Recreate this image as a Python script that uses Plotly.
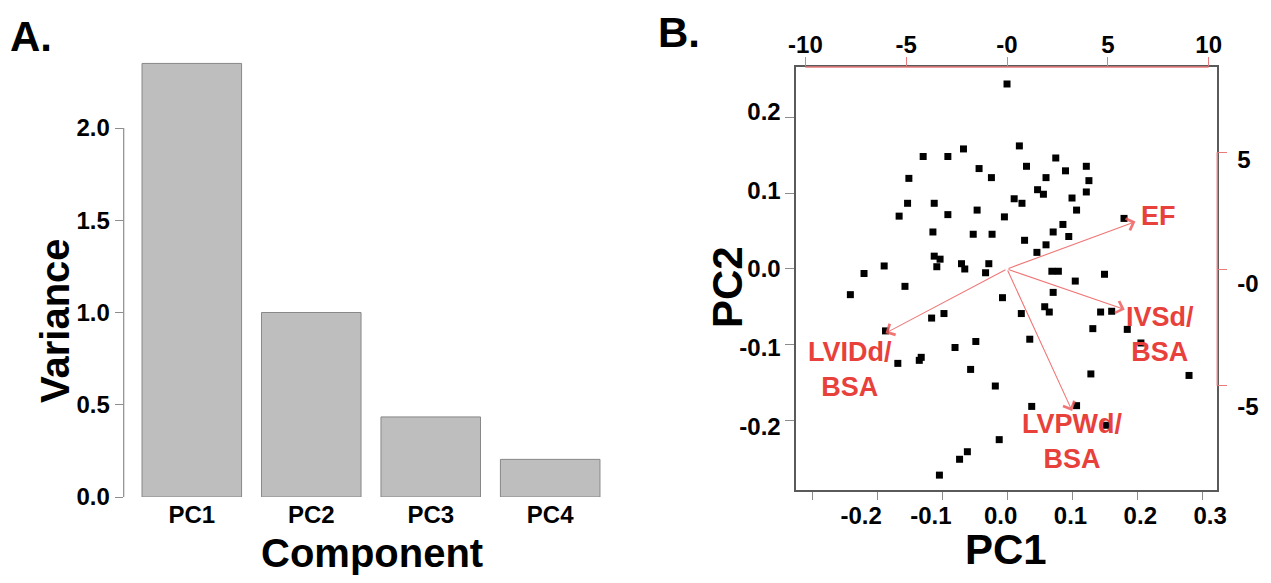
import plotly.graph_objects as go

# ---------------- data ----------------
components = ["PC1", "PC2", "PC3", "PC4"]
variances = [2.35, 1.00, 0.434, 0.204]
bar_ticks = [0.0, 0.5, 1.0, 1.5, 2.0]
bar_ticktext = ["0.0", "0.5", "1.0", "1.5", "2.0"]

pc1_scores = [0.000, 0.019, -0.129, -0.091, -0.067, -0.151, -0.043, -0.024, -0.153, -0.112,
              -0.166, -0.091, -0.046, 0.011, 0.023, -0.004, -0.114, -0.052, -0.023, -0.112,
              -0.103, -0.108, -0.070, -0.065, -0.028, -0.033, -0.189, -0.220, -0.241, -0.157,
              -0.007, 0.022, -0.116, -0.097, -0.187, -0.048, -0.080, -0.168, -0.135, -0.132,
              -0.056, -0.018, -0.012, -0.061, -0.073, -0.104, 0.069, 0.079, 0.105, 0.150,
              0.071, 0.058, 0.065, 0.144, 0.161, 0.132, 0.185, 0.206, 0.035, 0.129,
              0.280, 0.038, 0.107, 0.153, 0.075, 0.030, 0.090, 0.122, 0.060, 0.126,
              0.047, 0.056, 0.122, 0.100, 0.107, 0.180, 0.086, 0.071, 0.095, 0.027,
              0.060, 0.046]
pc2_scores = [0.245, 0.163, 0.149, 0.149, 0.159, 0.120, 0.133, 0.121, 0.087, 0.087,
              0.070, 0.072, 0.078, 0.093, 0.087, 0.069, 0.049, 0.046, 0.046, 0.017,
              0.013, 0.003, 0.007, 0.000, 0.007, -0.005, 0.004, -0.006, -0.034, -0.023,
              -0.038, -0.059, -0.065, -0.059, -0.082, -0.096, -0.104, -0.125, -0.121, -0.117,
              -0.133, -0.155, -0.226, -0.242, -0.252, -0.273, -0.003, -0.003, -0.016, -0.007,
              -0.031, -0.050, -0.057, -0.057, -0.056, -0.079, -0.080, -0.098, -0.093, -0.139,
              -0.141, -0.182, -0.181, -0.207, 0.147, 0.136, 0.130, 0.136, 0.121, 0.117,
              0.105, 0.099, 0.102, 0.094, 0.078, 0.067, 0.059, 0.049, 0.043, 0.038,
              0.032, 0.022]

loading_names = ["EF", "IVSd/<br>BSA", "LVPWd/<br>BSA", "LVIDd/<br>BSA"]
loading_pc1 = [6.37, 5.84, 3.23, -6.03]
loading_pc2 = [2.03, -1.74, -6.08, -2.75]

score_ticks = [-0.3, -0.2, -0.1, 0.0, 0.1, 0.2, 0.3]
score_x_labels = [-0.2, -0.1, 0.0, 0.1, 0.2, 0.3]
score_x_text = ["-0.2", "-0.1", "0.0", "0.1", "0.2", "0.3"]
score_y_ticks = [-0.2, -0.1, 0.0, 0.1, 0.2]
score_y_text = ["-0.2", "-0.1", "0.0", "0.1", "0.2"]
load_x_ticks = [-10, -5, 0, 5, 10]
load_x_text = ["-10", "-5", "-0", "5", "10"]
load_y_ticks = [-5, 0, 5]
load_y_text = ["-5", "-0", "5"]

# ---------------- styles ----------------
PAGE_W, PAGE_H = 1271, 583
BODY = 8                       # default margin of the html body
W, H = PAGE_W - BODY, PAGE_H - 2 * BODY
FONT = "Liberation Sans, Arial, Helvetica, sans-serif"
tickfont = dict(family=FONT, size=24, color="black", weight="bold")
RED_TXT = "#e8413c"
RED_AX = "#e87a7a"
ARROW = "rgba(238,95,95,0.85)"
GRAY = "#8c8c8c"
BOX = "#5a5a5a"


def px_x(p):
    return (p - BODY) / W


def px_y(p):
    return 1 - (p - BODY) / H


# label-shift (pixels) of each loading label relative to its arrow tip
label_shift = [(23, 6), (35, -25), (0, -31), (-35, -36)]

fig = go.Figure()

fig.add_trace(go.Bar(
    x=components, y=variances, width=1 / 1.2,
    marker=dict(color="#bebebe", line=dict(color="#888888", width=1)),
    xaxis="x", yaxis="y", hoverinfo="skip"))

fig.add_trace(go.Scatter(
    x=pc1_scores, y=pc2_scores, mode="markers",
    marker=dict(symbol="square", size=7, color="black"),
    xaxis="x3", yaxis="y3", hoverinfo="skip", cliponaxis=False))

# empty traces so that the label-only axes are created and drawn
for xa, ya in [("x5", "y3"), ("x3", "y5"), ("x3", "y6")]:
    fig.add_trace(go.Scatter(x=[], y=[], xaxis=xa, yaxis=ya, mode="markers",
                             hoverinfo="skip", showlegend=False))

annotations = []
for name, lx, ly, (sx, sy) in zip(loading_names, loading_pc1, loading_pc2, label_shift):
    annotations.append(dict(
        x=lx, y=ly, xref="x4", yref="y4", ax=0, ay=0, axref="x4", ayref="y4",
        text="", showarrow=True, arrowhead=4, arrowsize=2.2, arrowwidth=1.1,
        arrowcolor=ARROW, standoff=0))
    annotations.append(dict(
        x=lx, y=ly, xref="x4", yref="y4", text=name, showarrow=False,
        xshift=sx, yshift=sy, xanchor="center", yanchor="middle",
        font=dict(family=FONT, size=27, color=RED_TXT, weight="bold")))

title_font = dict(family=FONT, size=40, color="black", weight="bold")
title_font_b = dict(family=FONT, size=42, color="black", weight="bold")
big_font = dict(family=FONT, size=42, color="black", weight="bold")
for text, cx, cy, ang, fnt in [("A.", 31, 36, 0, big_font), ("B.", 679, 32, 0, big_font),
                               ("Variance", 55, 320, -90, title_font),
                               ("Component", 372, 553, 0, title_font),
                               ("PC1", 1006, 549, 0, title_font_b),
                               ("PC2", 727, 287, -90, title_font_b)]:
    annotations.append(dict(text=text, x=px_x(cx), y=px_y(cy), xref="paper", yref="paper",
                            xanchor="center", yanchor="middle", showarrow=False,
                            textangle=ang, font=fnt))

shapes = [
    dict(type="line", xref="x domain", yref="y", x0=0, x1=0,
         y0=bar_ticks[0], y1=bar_ticks[-1], line=dict(color=GRAY, width=1.2)),
    dict(type="line", xref="x4", yref="y3 domain", x0=load_x_ticks[0], x1=load_x_ticks[-1],
         y0=1, y1=1, line=dict(color=RED_AX, width=1.5)),
    dict(type="line", xref="x3 domain", yref="y4", x0=1, x1=1,
         y0=load_y_ticks[0], y1=load_y_ticks[-1], line=dict(color=RED_AX, width=1.5)),
]

bar_dom_x = [px_x(123.7), px_x(618.3)]
bar_dom_y = [px_y(497), px_y(50)]
sc_dom_x = [px_x(795.7), px_x(1217.3)]
sc_dom_y = [px_y(490), px_y(67)]

noax = dict(showgrid=False, zeroline=False, automargin=False)

fig.update_layout(
    width=W, height=H, margin=dict(l=0, r=0, t=0, b=0, pad=0, autoexpand=False),
    paper_bgcolor="white", plot_bgcolor="white", showlegend=False,
    font=dict(family=FONT, color="black"),
    xaxis=dict(domain=bar_dom_x, anchor="y", range=[-0.57, 3.57], showline=False,
               ticks="", ticklabelstandoff=1, tickfont=tickfont, **noax),
    yaxis=dict(domain=bar_dom_y, anchor="x", range=[0, 2.4228], tickvals=bar_ticks,
               ticktext=bar_ticktext, ticks="outside", ticklen=8, tickcolor=GRAY,
               tickwidth=1.2, showline=False, tickfont=tickfont, **noax),
    # scores axes (ticks + box)
    xaxis3=dict(domain=sc_dom_x, anchor="y3", range=[-0.3251, 0.3235], tickvals=score_ticks,
                showticklabels=False, ticks="outside", ticklen=8, tickcolor=GRAY, tickwidth=1.2,
                showline=True, mirror=True, linecolor=BOX, linewidth=1.5, **noax),
    yaxis3=dict(domain=sc_dom_y, anchor="x3", range=[-0.2927, 0.2675], tickvals=score_y_ticks,
                showticklabels=False, ticks="outside", ticklen=9, tickcolor=GRAY, tickwidth=1.2,
                showline=True, mirror=True, linecolor=BOX, linewidth=1.5, **noax),
    # loadings axes
    xaxis4=dict(overlaying="x3", anchor="y3", side="top", range=[-10.48, 10.43],
                tickvals=load_x_ticks, ticktext=load_x_text, ticks="outside", ticklen=9,
                tickcolor=RED_AX, tickwidth=1.2, showline=False, ticklabelstandoff=-6,
                tickfont=tickfont, **noax),
    yaxis4=dict(overlaying="y3", anchor="x3", side="right", range=[-9.469, 8.655],
                tickvals=load_y_ticks, showticklabels=False, ticks="outside", ticklen=9,
                tickcolor=RED_AX, tickwidth=1.2, showline=False, **noax),
    # label-only axes
    xaxis5=dict(overlaying="x3", anchor="y3", side="bottom", range=[-0.2937, 0.3103],
                tickvals=score_x_labels, ticktext=score_x_text, ticks="", showline=False,
                ticklabelstandoff=9, tickfont=tickfont, **noax),
    yaxis5=dict(overlaying="y3", anchor="x3", side="left", range=[-0.2806, 0.2565],
                tickvals=score_y_ticks, ticktext=score_y_text, ticks="", showline=False,
                ticklabelstandoff=14, tickfont=tickfont, **noax),
    yaxis6=dict(overlaying="y3", anchor="x3", side="right", range=[-8.38, 8.77],
                tickvals=load_y_ticks, ticktext=load_y_text, ticks="", showline=False,
                ticklabelstandoff=19, tickfont=tickfont, **noax),
    annotations=annotations, shapes=shapes,
)

fig.write_html("out.html", config={"displayModeBar": False})
